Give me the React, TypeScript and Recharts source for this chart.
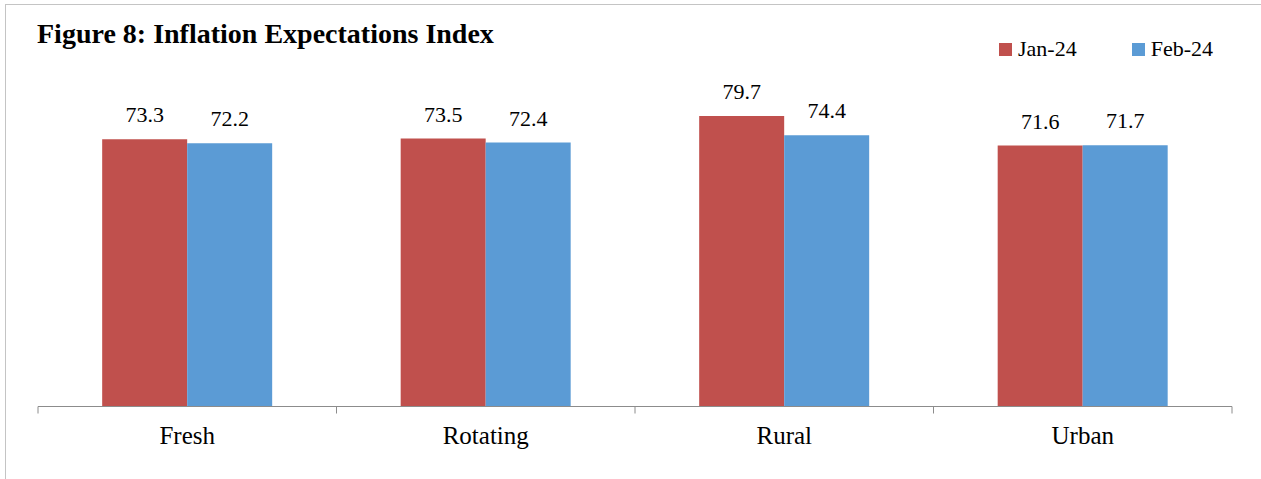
import React from "react";
import { BarChart, Bar, XAxis, YAxis, LabelList } from "recharts";

const categories = ["Fresh", "Rotating", "Rural", "Urban"];
const jan24 = [73.3, 73.5, 79.7, 71.6];
const feb24 = [72.2, 72.4, 74.4, 71.7];
const seriesNames = ["Jan-24", "Feb-24"];

const data = categories.map((name, i) => ({ name, jan: jan24[i], feb: feb24[i] }));

const RED = "#C0504D";
const BLUE = "#5B9BD5";
const colors = [RED, BLUE];
const AXIS = "#8c8c8c";
const FONT = "'Liberation Serif', 'Times New Roman', serif";

const CategoryTick = (props: any) => {
  const { x, y, payload, index, visibleTicksCount } = props;
  const half = payload && typeof payload.offset === "number" ? payload.offset : 0;
  const isLast = index === visibleTicksCount - 1;
  return (
    <g>
      <line x1={x - half} x2={x - half} y1={y} y2={y + 7} stroke={AXIS} strokeWidth={1} />
      {isLast ? <line x1={x + half} x2={x + half} y1={y} y2={y + 7} stroke={AXIS} strokeWidth={1} /> : null}
      <text x={x} y={y + 37.5} textAnchor="middle" fontFamily={FONT} fontSize={25} fill="#000">
        {payload.value}
      </text>
    </g>
  );
};

export default function App() {
  return (
    <div style={{ position: "fixed", left: 0, top: 0, width: 1261, height: 479, overflow: "hidden", background: "#fff" }}>
      <div style={{ position: "absolute", left: 5, top: 4, width: 1400, height: 700, boxSizing: "border-box", borderLeft: "1px solid #c4c4c4", borderTop: "1px solid #c4c4c4" }} />
      <div style={{ position: "absolute", left: 37, top: 18, fontFamily: FONT, fontWeight: "bold", fontSize: 28, color: "#000", whiteSpace: "nowrap", lineHeight: "32px" }}>
        Figure 8: Inflation Expectations Index
      </div>
      <div style={{ position: "absolute", left: 999, top: 35, display: "flex", fontFamily: FONT, fontSize: 22, color: "#000", lineHeight: "28px" }}>
        {seriesNames.map((s, i) => (
          <div key={s} style={{ display: "flex", alignItems: "center", marginLeft: i === 0 ? 0 : 55 }}>
            <span style={{ display: "inline-block", width: 13, height: 13, background: colors[i], marginRight: 6 }} />
            <span>{s}</span>
          </div>
        ))}
      </div>
      <div style={{ position: "absolute", left: 0, top: 0 }}>
        <BarChart
          width={1261}
          height={479}
          data={data}
          margin={{ top: 42, right: 29, bottom: 0, left: 38 }}
          barCategoryGap="21.5%"
          barGap={0}
        >
          <XAxis
            dataKey="name"
            axisLine={{ stroke: AXIS, strokeWidth: 1 }}
            tickLine={false}
            tickSize={0}
            tickMargin={0}
            height={72.5}
            interval={0}
            tick={<CategoryTick />}
          />
          <YAxis hide domain={[0, 100]} />
          <Bar dataKey="jan" name={seriesNames[0]} fill={RED} isAnimationActive={false}>
            <LabelList dataKey="jan" position="top" offset={17} style={{ fontFamily: FONT, fontSize: 22, fill: "#000" }} />
          </Bar>
          <Bar dataKey="feb" name={seriesNames[1]} fill={BLUE} isAnimationActive={false}>
            <LabelList dataKey="feb" position="top" offset={17} style={{ fontFamily: FONT, fontSize: 22, fill: "#000" }} />
          </Bar>
        </BarChart>
      </div>
    </div>
  );
}
